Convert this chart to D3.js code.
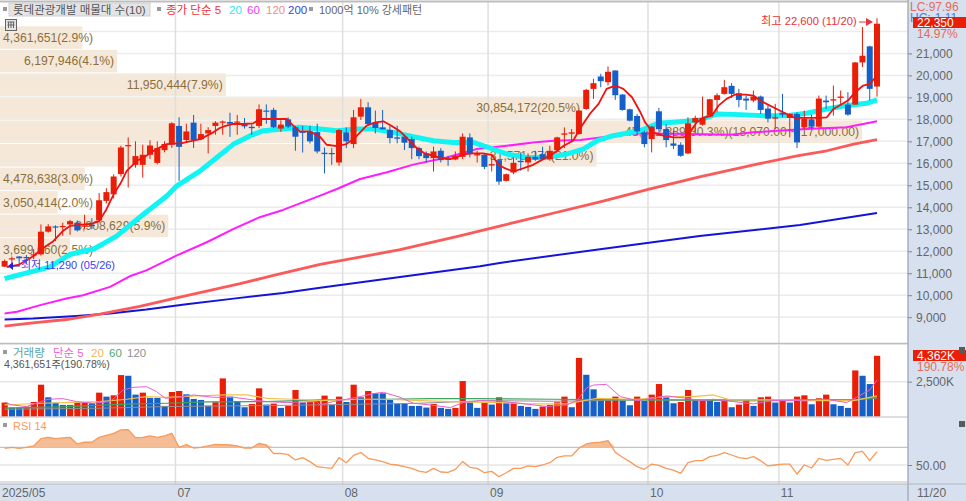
<!DOCTYPE html>
<html>
<head>
<meta charset="utf-8">
<script src="https://cdn.jsdelivr.net/npm/d3@7"></script>
<style>
html, body { margin: 0; padding: 0; background: #fff; overflow: hidden; }
svg { display: block; }
text { font-family: "Liberation Sans", "Noto Sans CJK KR", sans-serif; }
</style>
</head>
<body>
<div id="chart-container"></div>
<script>
const width = 966;
const height = 501;

const open = [11300,11640,11760,11740,11820,11860,12890,13130,13130,13220,13300,13130,13200,13400,14290,14590,15510,16780,15930,15930,16390,16020,16600,16850,17700,17060,17850,17090,17360,17700,17880,17880,17850,17800,17660,17700,18400,18430,17580,18000,17640,17440,17450,17420,
  16480,16470,16038,17408,16875,18123,18549,17849,17636,17514,17180,17210,17103,16692,16449,16236,16571,16220,16175,16297,17180,16357,16388,15901,16144,15201,15581,16114,16038,16297,16418,16190,16601,17301,17347,17332,18473,19386,19949,19691,20223,19128,18458,18153,
  17408,17104,18367,17560,16906,16845,16449,17864,17758,18169,18884,19158,19524,19189,18945,18854,19037,18489,18032,18306,18063,18245,17636,18002,17667,18854,18854,18976,18671,18671,20589,21320,19493];
const high = [11620,11760,11780,11830,12100,13220,13230,13180,13300,13430,13400,13660,13500,14650,14870,15500,16800,17180,17000,16850,17050,17000,17000,17870,18090,17800,18200,17800,17640,17920,17950,18300,18200,18060,17780,18680,18680,18520,17960,18090,17700,17700,17700,17800,
  16720,16690,17560,17636,18427,18930,18777,18397,18427,17712,17712,17301,17210,16753,16540,16753,16692,16342,16540,17362,17362,16571,16449,16418,16190,15536,16266,16495,16449,16571,16753,16799,17210,17636,17560,18427,19386,19843,20071,20406,20223,19158,18488,18245,
  17484,17700,18519,17788,17484,16951,18093,18169,19037,18930,19189,19798,19645,19387,19082,19311,19082,18626,18702,19158,18276,18321,18397,18215,19082,19082,19539,19311,19235,20600,22202,21350,22600];
const low = [11290,11330,11370,11430,11640,11800,12850,12460,12700,12750,12900,13000,13000,13300,14170,14400,15400,14900,15800,15350,16200,15950,16500,16700,15200,16950,16700,17050,16450,17300,17300,17200,17300,17580,17300,17600,17800,17600,17430,17600,16570,16490,16900,16450,
  15540,15930,15890,16690,16690,17970,17712,17362,17545,16905,16905,16601,16190,16190,16038,15627,16038,15886,16144,16190,16266,16038,15733,15627,15018,15170,15505,15657,15627,16114,16144,16114,16571,16692,17027,17301,18427,18930,19462,19538,18884,18397,17910,17255,
  16723,16495,17454,16723,16647,16297,16419,17408,17713,18169,18321,19128,18976,18550,18428,18778,18245,17864,17560,18093,17180,16693,17560,17560,17636,18473,18169,18626,18169,18671,20376,18854,19037];
const close = [11560,11680,11680,11690,11860,12890,13130,13080,13150,13370,12950,13170,13140,14320,14690,15400,16720,16830,16330,16390,16810,16690,16880,17820,16750,17450,17060,17330,17510,17850,17900,17800,17900,17680,17600,18460,18370,17640,17760,17670,17210,17400,17000,16540,
  16420,16420,17514,16997,18093,18549,17788,17606,17545,17149,17119,16936,16692,16327,16236,16540,16144,16160,16342,17210,16449,16418,15840,15962,15170,15505,16023,16053,16297,16175,16190,16571,17180,17362,17408,18397,19341,19645,19736,20163,19097,18427,17940,17453,
  16875,17667,17560,17058,16799,16343,17819,18063,18063,18915,19097,19463,19158,18884,18854,19037,18428,18032,18093,18215,18245,16951,18032,17667,18945,18778,18915,19037,18215,20589,20893,19387,22350];

// moving averages as [bar index, value]
const ma5 = [[0.3,11280],[2,11396],[4,11780],[5,12080],[6.7,12460],[8,12920],[9,13150],[10,13190],[11,13220],[12,13250],[13,13370],[14,13900],[15,14590],[16,15120],[16.8,15660],[18.2,16115],[19.5,16343],[20.9,16647],[22.3,16875],[24.4,16920],[26.9,17100],[28.7,17408],[29.6,17606],[30.5,17713],[31.5,17789],[32.8,17789],[34.2,17819],[35.1,18017],[36.1,18017],[38.8,18017],[39.7,17713],[40.6,17454],[42,17454],[43.4,17200],[44.3,16845],[45.7,16784],[47,16875],[48,17103],[48.9,17408],[49.8,17712],[51,17864],[52.1,17910],[53.2,17712],[54.4,17453],[55.5,17103],[56.7,16692],[57.8,16449],[59,16342],[60.1,16236],[61.3,16190],[62.2,16297],[63.3,16418],[64.5,16449],[65.8,16449],[67,16388],[67.9,15962],[68.8,15779],[70,15627],[71.4,15779],[72.7,15931],[74.1,16190],[75.5,16449],[76.9,16799],[78.2,17027],[79.4,17712],[80.5,18245],[81.7,18701],[82.8,19386],[84,19538],[85.1,19386],[86.3,19006],[87.4,18360],[88.1,17865],[89.2,17408],[90.6,17256],[92,17180],[93.4,17180],[94.3,17408],[95.2,17865],[96.1,18063],[97.3,18169],[98.2,18626],[99.3,18930],[100.5,19128],[101.9,19128],[103,19082],[103.9,18854],[105,18671],[106.2,18473],[107.6,18245],[108.7,18063],[109.9,18063],[111,18063],[112.2,18063],[113.1,18093],[114,18473],[115.2,18702],[116.1,18884],[117,19235],[118.1,19539],[119,19615],[120,19996]];
const ma20 = [[0,10757],[2.1,10940],[6.2,11275],[9,11853],[12.4,12127],[15.4,12690],[19.1,13680],[22.3,14516],[23.7,14973],[26.9,15658],[29.2,16267],[31.5,16875],[33.8,17256],[35.6,17484],[38.3,17560],[40.6,17636],[43.4,17560],[45.7,17484],[48.4,17560],[50.7,17560],[53.5,17408],[56.2,17210],[59,17027],[61.7,16951],[64.5,16951],[67.2,16647],[69.1,16418],[71.8,16266],[74.6,16266],[77.3,16418],[79.6,16647],[81.5,17027],[83.7,17256],[87.4,17484],[89.9,17819],[92,17865],[95.7,17971],[98,18245],[101.2,18215],[104.4,18169],[107.6,18169],[110.3,18276],[113.1,18473],[115.8,18626],[118.6,18732],[120,18884]];
const ma60 = [[0,9170],[1.7,9250],[4.9,9550],[8.5,9850],[10.8,10000],[14.5,10380],[17.2,10860],[19.5,11130],[23.7,11810],[27.8,12410],[31.5,13020],[35.1,13550],[38.3,13880],[43.4,14530],[45.7,14830],[48.9,15285],[52.6,15590],[56.2,15940],[60.8,16266],[64.9,16647],[69.1,16799],[72.7,16951],[75.5,17027],[79.2,17058],[82.8,17210],[87.4,17362],[92,17340],[99.8,17302],[103,17408],[110.3,17560],[115.8,17636],[120,17910]];
const ma120 = [[0,8595],[3.9,8745],[8.5,8895],[13.1,9135],[18.6,9495],[23.2,9845],[27.8,10190],[32.4,10525],[37,10900],[43.4,11400],[54.4,12070],[62.6,12700],[68.1,13146],[75,13694],[81.9,14242],[88.8,14836],[95.6,15384],[103.5,15962],[109,16343],[113.1,16571],[116.8,16876],[120,17073]];
const ma200 = [[0,8895],[3.9,8940],[9.9,9060],[14.5,9165],[19.5,9345],[25,9590],[31.5,9845],[38.3,10100],[43.4,10340],[54.4,10830],[65.4,11320],[68.1,11470],[81.9,12096],[95.6,12690],[109.4,13192],[120,13740]];

const volume = [1000,643,643,714,1047,2285,1380,1000,833,833,1023,976,952,1714,1428,1523,2975,2927,1571,1714,1333,1333,762,1761,1833,1595,1261,1190,785,1023,2737,1428,1095,666,904,2023,857,928,619,762,1904,1000,1047,1142,
  1500,833,1428,1047,2285,1380,1833,1666,1666,1190,904,904,762,762,643,904,619,547,619,2547,1000,619,1000,857,1380,1000,1000,762,690,547,714,833,1023,1428,666,4212,2998,1952,1142,1190,1428,1142,809,1428,
  1119,1571,2332,1380,952,1047,1904,1190,1190,1190,1047,1190,666,857,1190,762,1380,1428,1000,1190,1000,1428,1523,880,1309,1571,880,762,619,3308,2927,2332,4362];
const volColor = "RBBRRRBBBRRRBRBRRBBRBBBRRBBBBRRBBBRRBRBRRBRR" +
  "RBRBRBRBBBBBBBBRBBRRBBRBRBRBBBRRRRBRBBBRRBBR" +
  "BRRBBRRBRBBRBRRBRRBRBRRBRRBBBRBBR";

const volMa5 = [[0,1023],[1,833],[3,714],[5,1071],[6,1238],[8,1285],[9.9,1071],[12.2,952],[14.5,1071],[16.3,1904],[17.7,2094],[19.5,2142],[20.9,1785],[22.1,1309],[23.7,1380],[26,1547],[28.7,1380],[31.5,1380],[34.2,1190],[36,1071],[38.8,1000],[42.9,1071],[43.4,833],[45.2,1071],[47,1238],[48.9,1428],[51,1666],[52.1,1737],[54.4,1380],[56.2,952],[58.5,833],[61.3,643],[63.1,1000],[65.4,1142],[68.2,1095],[70.9,952],[74.6,714],[77.3,833],[78.7,1142],[80.1,2071],[81,2261],[82.8,2309],[84.7,1428],[87,1142],[91.1,1476],[93.8,1309],[95.7,1142],[97.5,1238],[100.2,1071],[103,904],[105.7,1142],[108.5,1142],[113.1,1238],[115.8,1000],[117.2,1380],[119,1904],[120,2618]];
const volMa20 = [[0,833],[2.1,881],[5,952],[8.5,1000],[13.1,1071],[16.8,1238],[19.5,1428],[22.3,1380],[26.4,1476],[30.5,1547],[33.3,1547],[36,1309],[39.7,1238],[43.4,1142],[48,1238],[52.6,1238],[57.1,1142],[62.6,1047],[68.2,1000],[71.8,904],[77.3,904],[81.5,1309],[87,1238],[91.1,1428],[94.7,1428],[97.5,1547],[99.8,1190],[107.1,1190],[110.3,1142],[116.8,1142],[120,1476]];
const volMa60 = [[0,595],[8.5,714],[17.7,904],[22.3,952],[27.8,1047],[36,1071],[43.4,1190],[52.6,1238],[58.5,1285],[64.5,1285],[75.5,1238],[87.4,1190],[102.5,1190],[116.8,1190],[120,1380]];
const volMa120 = [[0,523],[13.1,595],[22.3,714],[31.5,762],[43.4,833],[57.1,952],[66.3,1142],[75.5,1095],[87.4,1190],[102.5,1119],[116.8,1190],[120,1309]];

const rsi = [68.9,70,68.9,70,71.5,79.8,81.3,79.8,80.6,81.3,73.8,75.7,75.7,81.3,83.6,85.8,89.6,90,80.9,81.3,82.8,81.3,82.8,85.8,70,73,69.2,70,71.5,73.4,73,72.6,71.5,69.2,69.2,74.5,72.6,62.8,63.2,61.7,55.7,58.3,53.8,48.1,
  47,46.2,58.3,52.6,60.9,64,57.5,55.7,53.8,51.1,50,48.1,46.2,43.2,41.7,46.2,42.1,41.7,45.1,53.8,47.4,46.2,41.3,42.8,36.8,41.3,46.2,46.2,48.9,48.1,50,52.6,58.7,60.2,60.2,68.9,73.8,75.3,75.7,77.5,64.3,58.7,53.8,48.1,
  45.1,51.1,49.6,46.2,44.3,40.6,52.6,54.9,54.9,59.4,60.9,64,61.3,58.3,57.2,59.4,54.9,48.9,50,51.1,51.1,39.8,50,46.6,57.5,55.3,56.4,57.5,50,64,65.5,54.9,65.1];

// volume-by-price bands
const bandTop = [22233,21162,20091,19020,17949,16878,15807,14736,13665,12594];
const bandVolume = [4361651,6197946,11950444,30854172,45622889,31571270,4478638,3050414,8908629,3699060];
const bandPct = [2.9,4.1,7.9,20.5,30.3,21.0,3.0,2.0,5.9,2.5];
const bandStep = 1071;

const priceTicks = [9000,10000,11000,12000,13000,14000,15000,16000,17000,18000,19000,20000,21000];
const monthIdx = [23.5,46.5,66.5,88.5,106.5];
const monthLabels = ["07","08","09","10","11"];

const plotRight = 908;
const upColor = "#ea1d07";
const downColor = "#1560c8";

const x = d3.scaleLinear([0, 120], [4.6, 877]);
const y = d3.scaleLinear([9000, 21000], [317.2, 53.4]);
const yVol = d3.scaleLinear([0, 2500], [416.5, 381.7]);
const yRsi = d3.scaleLinear([50, 70], [465, 447.3]);
const bandW = d3.scaleLinear([0, 45622889], [0, 862]);

const svg = d3.select("#chart-container")
    .append("svg")
    .attr("width", width)
    .attr("height", height)
    .attr("viewBox", [0, 0, width, height]);

function label(t, px, py, color, size, anchor) {
    return svg.append("text")
        .attr("x", px).attr("y", py)
        .attr("fill", color)
        .attr("font-size", size || 12)
        .attr("text-anchor", anchor || "start")
        .text(t);
}

function hline(py, color, w) {
    svg.append("line").attr("x1", 0).attr("x2", plotRight).attr("y1", py).attr("y2", py)
        .attr("stroke", color).attr("stroke-width", w || 1);
}

// side and bottom strips
svg.append("rect").attr("x", plotRight).attr("y", 0).attr("width", width - plotRight).attr("height", height).attr("fill", "#d6e0ee");
svg.append("rect").attr("x", 0).attr("y", 484).attr("width", width).attr("height", 17).attr("fill", "#d6e0ee");

// volume-by-price bands and their labels sit under the candles
svg.selectAll(".band").data(bandTop).join("rect")
    .attr("x", 0)
    .attr("y", d => y(d))
    .attr("width", (d, i) => bandW(bandVolume[i]))
    .attr("height", d => y(d - bandStep) - y(d) - 1)
    .attr("fill", "#f5e8d8");

// grid goes over the bands, it shows as pale lines through them
priceTicks.forEach(t => hline(y(t), "#ececec", 1.5));
hline(y(22000), "#ececec", 1.5);
hline(yVol(2500), "#e6e6e6", 1.5);
hline(yRsi(50), "#e6e6e6", 1.5);
svg.selectAll(".month").data(monthIdx).join("line")
    .attr("x1", d => x(d)).attr("x2", d => x(d))
    .attr("y1", 2).attr("y2", 501)
    .attr("stroke", "#dfdfdf").attr("stroke-width", 1.5);
hline(yRsi(70), "#b4b4b4", 1);

bandTop.forEach((d, i) => {
    let t = d3.format(",")(bandVolume[i]) + "(" + bandPct[i].toFixed(1) + "%)";
    if (i === 4) t += "(18,070.00 ~ 17,000.00)";
    const el = label(t, 0, y(d) + 15.5, "#8a6f3e", 12.2);
    const tw = el.node().getComputedTextLength();
    el.attr("x", Math.max(3, bandW(bandVolume[i]) - 3 - tw));
});

const maLine = (yScale) => d3.line().x(d => x(d[0])).y(d => yScale(d[1]));

function drawMa(data, yScale, color, w) {
    svg.append("path").datum(data)
        .attr("d", maLine(yScale))
        .attr("fill", "none").attr("stroke", color).attr("stroke-width", w)
        .attr("stroke-linejoin", "round");
}

drawMa(ma200, y, "#1414d8", 2);
drawMa(ma120, y, "#fb5a5a", 2.8);
drawMa(ma60, y, "#ff1cff", 2);
drawMa(ma20, y, "#10f4f4", 5);

// candles
const idx = d3.range(open.length);
const dirColor = i => close[i] >= open[i] ? upColor : downColor;
svg.selectAll(".wick").data(idx).join("line")
    .attr("x1", i => x(i)).attr("x2", i => x(i))
    .attr("y1", i => y(high[i])).attr("y2", i => y(low[i]))
    .attr("stroke", dirColor).attr("stroke-width", 1);
svg.selectAll(".body").data(idx).join("rect")
    .attr("x", i => x(i) - 3)
    .attr("y", i => Math.min(y(open[i]), y(close[i])))
    .attr("width", 6)
    .attr("height", i => Math.max(1.2, Math.abs(y(open[i]) - y(close[i]))))
    .attr("fill", dirColor);

drawMa(ma5, y, "#f01212", 1.8);

// high and low marks
label("최고 22,600 (11/20)", 761, 25, "#e8323c", 11.2);
svg.append("line").attr("x1", 859).attr("x2", 870).attr("y1", 22).attr("y2", 22).attr("stroke", "#e8323c");
svg.append("path").attr("d", d3.line()([[873, 22], [866, 18], [866, 26]])).attr("fill", "#e8323c");
label("최저 11,290 (05/26)", 21, 269, "#3c3cf0", 11);
svg.append("line").attr("x1", 10).attr("x2", 20).attr("y1", 266).attr("y2", 266).attr("stroke", "#2020e0");
svg.append("path").attr("d", d3.line()([[8, 266], [13, 262], [13, 270]])).attr("fill", "#2020e0");

// volume panel
svg.selectAll(".vol").data(volume).join("rect")
    .attr("x", (d, i) => x(i) - 3)
    .attr("y", d => yVol(d))
    .attr("width", 6.2)
    .attr("height", d => yVol(0) - yVol(d))
    .attr("fill", (d, i) => volColor[i] === "R" ? upColor : downColor);
drawMa(volMa120, yVol, "#909090", 1);
drawMa(volMa60, yVol, "#3fa35f", 1.2);
drawMa(volMa20, yVol, "#f2c04a", 1.2);
drawMa(volMa5, yVol, "#e860d0", 1);

// RSI panel: filled above 70
const rsiPts = rsi.map((d, i) => [i, d]);
svg.append("path").datum(rsiPts)
    .attr("d", d3.area().x(d => x(d[0])).y0(yRsi(70)).y1(d => yRsi(Math.max(d[1], 70))))
    .attr("fill", "#f5bd96");
drawMa(rsiPts, yRsi, "#f79a5a", 1.3);

// panel separators
hline(1.5, "#bdbdbd", 2);
hline(343.5, "#bdbdbd", 1.5);
hline(344.5, "#e2e2e2", 1);
hline(417, "#bdbdbd", 1.2);
hline(482, "#bdbdbd", 1.2);
svg.append("line").attr("x1", 0).attr("x2", width).attr("y1", 484).attr("y2", 484).attr("stroke", "#b0b8c4");
svg.append("line").attr("x1", plotRight).attr("x2", plotRight).attr("y1", 0).attr("y2", height).attr("stroke", "#a8b0bc").attr("stroke-width", 1.5);

// right axes
const styleAxis = g => {
    g.select(".domain").remove();
    g.selectAll("line").attr("stroke", "#7c8894");
    g.selectAll("text").attr("fill", "#666").attr("font-size", 12).attr("dy", "0.35em")
        .attr("font-family", '"Liberation Sans", sans-serif');
};
svg.append("g").attr("transform", `translate(${plotRight},0)`)
    .call(d3.axisRight(y).tickValues(priceTicks).tickFormat(d3.format(",")).tickSize(4).tickPadding(4))
    .call(styleAxis);
svg.append("g").attr("transform", `translate(${plotRight},0)`)
    .call(d3.axisRight(yVol).tickValues([2500]).tickFormat(d => d3.format(",")(d) + "K").tickSize(4).tickPadding(4))
    .call(styleAxis);
svg.append("g").attr("transform", `translate(${plotRight},0)`)
    .call(d3.axisRight(yRsi).tickValues([50]).tickFormat(d3.format(".2f")).tickSize(4).tickPadding(4))
    .call(styleAxis);

// price side flags, the flag hides most of the HC line as in the reference
label("LC:97.96", 910, 11, "#e86a5a", 12);
label("HC:-1.11", 910, 22, "#4a7de0", 12);
svg.append("rect").attr("x", 913).attr("y", 17).attr("width", 53).attr("height", 11).attr("fill", "#ea1d07");
label("22,350", 917, 27, "#ffffff", 12);
label("14.97%", 917, 38, "#e86a5a", 12);

svg.append("rect").attr("x", 913).attr("y", 350).attr("width", 53).attr("height", 11).attr("fill", "#ea1d07");
label("4,362K", 917, 360, "#ffffff", 12);
label("190.78%", 917, 371, "#e86a5a", 12);
[[959, 347], [959, 421]].forEach(p => {
    svg.append("rect").attr("x", p[0]).attr("y", p[1]).attr("width", 6).attr("height", 6).attr("fill", "#5a5a5a");
});

// date strip
label("2025/05", 2, 497, "#666", 12);
svg.selectAll(".month-label").data(monthIdx).join("text")
    .attr("x", d => x(d) + 2)
    .attr("y", 497)
    .attr("fill", "#666").attr("font-size", 12)
    .text((d, i) => monthLabels[i]);
label("11/20", 917, 497, "#666", 12);

// headers
const bullet = (px, py) => svg.append("rect").attr("x", px).attr("y", py).attr("width", 4).attr("height", 4).attr("fill", "#9a9a9a");
bullet(3, 7);
svg.append("rect").attr("x", 9).attr("y", 3).attr("width", 141).attr("height", 13).attr("fill", "#e4e4e4").attr("stroke", "#cfcfcf");
label("롯데관광개발 매물대 수(10)", 13, 14, "#555", 11.5);
bullet(157, 7);
label("종가 단순 5", 166, 14, "#f0323c", 11.5);
label("20", 229, 14, "#30e8f0", 11.5);
label("60", 247, 14, "#f040f0", 11.5);
label("120", 266, 14, "#f09080", 11.5);
label("200", 288, 14, "#3c3ce0", 11.5);
bullet(309, 7);
label("1000억 10% 강세패턴", 319, 14, "#666", 11);

// small grid icon under the header
svg.append("rect").attr("x", 5.5).attr("y", 19.5).attr("width", 11).attr("height", 11).attr("fill", "#e4e4e4").attr("stroke", "#666");
svg.append("path").attr("d", "M7.5 22H14.5M7.5 25H14.5M8.5 22V28M11 22V28M13.5 22V28").attr("stroke", "#666").attr("fill", "none");

bullet(3, 350);
label("거래량", 13, 357, "#56a6a6", 11.5);
label("단순 5", 53, 357, "#f060d0", 11.5);
label("20", 91, 357, "#f0b850", 11.5);
label("60", 109, 357, "#50a870", 11.5);
label("120", 127, 357, "#909090", 11.5);
label("4,361,651주(190.78%)", 4, 368, "#555", 10.6);
bullet(3, 423);
label("RSI 14", 13, 430, "#f79a5a", 11);
</script>
</body>
</html>
